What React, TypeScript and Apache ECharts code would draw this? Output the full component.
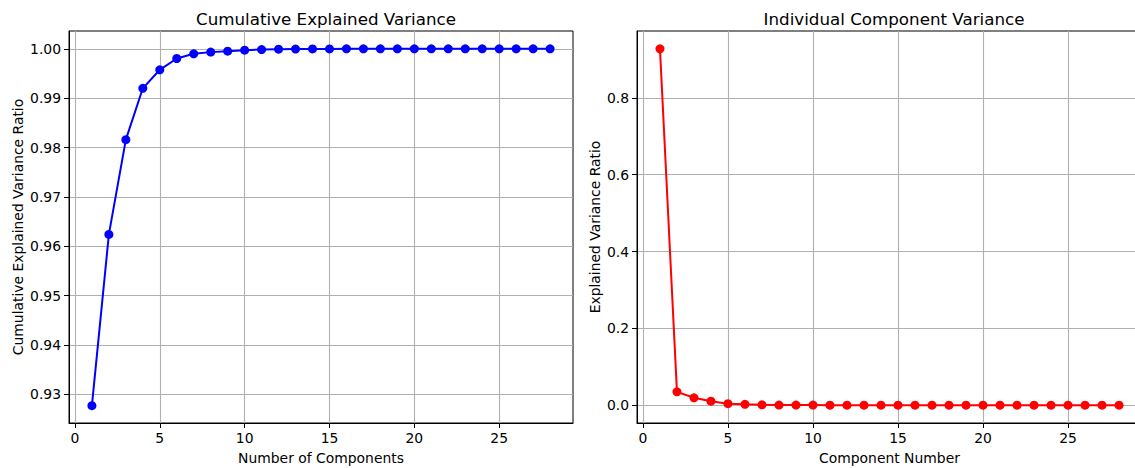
import React, { useEffect, useRef } from "react";
import * as echarts from "echarts";

const components = [1, 2, 3, 4, 5, 6, 7, 8, 9, 10, 11, 12, 13, 14, 15, 16, 17, 18, 19, 20, 21, 22, 23, 24, 25, 26, 27, 28];
const cumulative = [
  0.9277, 0.9624, 0.9816, 0.992, 0.99575, 0.99804, 0.99899, 0.99933, 0.99953, 0.99973,
  0.99985, 0.99992, 0.99995, 0.99997, 0.99998, 0.99999, 0.999993, 0.999995, 0.999997, 0.999998,
  0.999999, 0.999999, 1.0, 1.0, 1.0, 1.0, 1.0, 1.0,
];
const individual = [
  0.9277, 0.0347, 0.0192, 0.0104, 0.0038, 0.0023, 0.001, 0.0003, 0.0002, 0.0002,
  0.00012, 0.00007, 0.00003, 0.00002, 0.00001, 0.00001, 0.000003, 0.000002, 0.000002, 0.000001,
  0.000001, 0.0000005, 0.0000004, 0.0000003, 0.0000002, 0.0000001, 0.0000001, 0.00000005,
];
const xTicks = [0, 5, 10, 15, 20, 25];
const leftYTicks = [0.93, 0.94, 0.95, 0.96, 0.97, 0.98, 0.99, 1.0];
const rightYTicks = [0, 0.2, 0.4, 0.6, 0.8];

const FONT = "DejaVu Sans";
const GRID_COLOR = "#b0b0b0";

function xAxisCfg(gridIndex: number, name: string) {
  return {
    type: "value",
    gridIndex,
    min: -0.35,
    max: 29.35,
    name,
    nameLocation: "middle",
    nameGap: 28,
    nameTextStyle: { fontFamily: FONT, fontSize: 13.9, color: "#000" },
    axisLine: { show: true, onZero: false, lineStyle: { color: "#000", width: 1 } },
    axisTick: { show: true, length: 5, customValues: xTicks, lineStyle: { color: "#000", width: 1 } },
    axisLabel: {
      customValues: xTicks,
      margin: 8,
      fontFamily: FONT,
      fontSize: 13.9,
      color: "#000",
      formatter: (v: number) => String(v),
    },
    splitLine: { show: true, lineStyle: { color: GRID_COLOR, width: 1.1 } },
  };
}

function yAxisCfg(gridIndex: number, name: string, min: number, max: number, ticks: number[], digits: number, gap: number) {
  return {
    type: "value",
    gridIndex,
    min,
    max,
    name,
    nameLocation: "middle",
    nameGap: gap,
    nameTextStyle: { fontFamily: FONT, fontSize: 13.9, color: "#000" },
    axisLine: { show: true, onZero: false, lineStyle: { color: "#000", width: 1 } },
    axisTick: { show: true, length: 5, customValues: ticks, lineStyle: { color: "#000", width: 1 } },
    axisLabel: {
      customValues: ticks,
      margin: 8,
      fontFamily: FONT,
      fontSize: 13.9,
      color: "#000",
      formatter: (v: number) => v.toFixed(digits),
    },
    splitLine: { show: true, lineStyle: { color: GRID_COLOR, width: 1.1 } },
  };
}

export default function App() {
  const ref = useRef<HTMLDivElement>(null);
  useEffect(() => {
    if (!ref.current) return;
    const chart = echarts.init(ref.current, null, { renderer: "svg" });
    const option = {
      animation: false,
      backgroundColor: "#fff",
      title: [
        {
          text: "Cumulative Explained Variance",
          left: 321,
          top: 5,
          textAlign: "center",
          textStyle: { fontFamily: FONT, fontSize: 16.7, fontWeight: "normal", color: "#000" },
        },
        {
          text: "Individual Component Variance",
          left: 889,
          top: 5,
          textAlign: "center",
          textStyle: { fontFamily: FONT, fontSize: 16.7, fontWeight: "normal", color: "#000" },
        },
      ],
      grid: [
        { left: 69, top: 31, width: 504, height: 392, show: true, borderColor: "#000", borderWidth: 1, backgroundColor: "transparent", outerBoundsMode: "none", containLabel: false },
        { left: 637, top: 31, width: 505, height: 392, show: true, borderColor: "#000", borderWidth: 1, backgroundColor: "transparent", outerBoundsMode: "none", containLabel: false },
      ],
      xAxis: [xAxisCfg(0, "Number of Components"), xAxisCfg(1, "Component Number")],
      yAxis: [
        yAxisCfg(0, "Cumulative Explained Variance Ratio", 0.92419, 1.00361, leftYTicks, 2, 44),
        yAxisCfg(1, "Explained Variance Ratio", -0.04638, 0.97408, rightYTicks, 1, 35),
      ],
      series: [
        {
          type: "line",
          xAxisIndex: 0,
          yAxisIndex: 0,
          data: components.map((c, i) => [c, cumulative[i]]),
          symbol: "circle",
          symbolSize: 9,
          lineStyle: { color: "#0000ff", width: 2 },
          itemStyle: { color: "#0000ff" },
          clip: false,
          z: 5,
        },
        {
          type: "line",
          xAxisIndex: 1,
          yAxisIndex: 1,
          data: components.map((c, i) => [c, individual[i]]),
          symbol: "circle",
          symbolSize: 9,
          lineStyle: { color: "#ff0000", width: 2 },
          itemStyle: { color: "#ff0000" },
          clip: false,
          z: 5,
        },
      ],
    };
    chart.setOption(option as any);
    return () => chart.dispose();
  }, []);
  return (
    <div
      ref={ref}
      style={{ position: "fixed", left: 0, top: 0, width: 1135, height: 468, background: "#fff" }}
    />
  );
}
